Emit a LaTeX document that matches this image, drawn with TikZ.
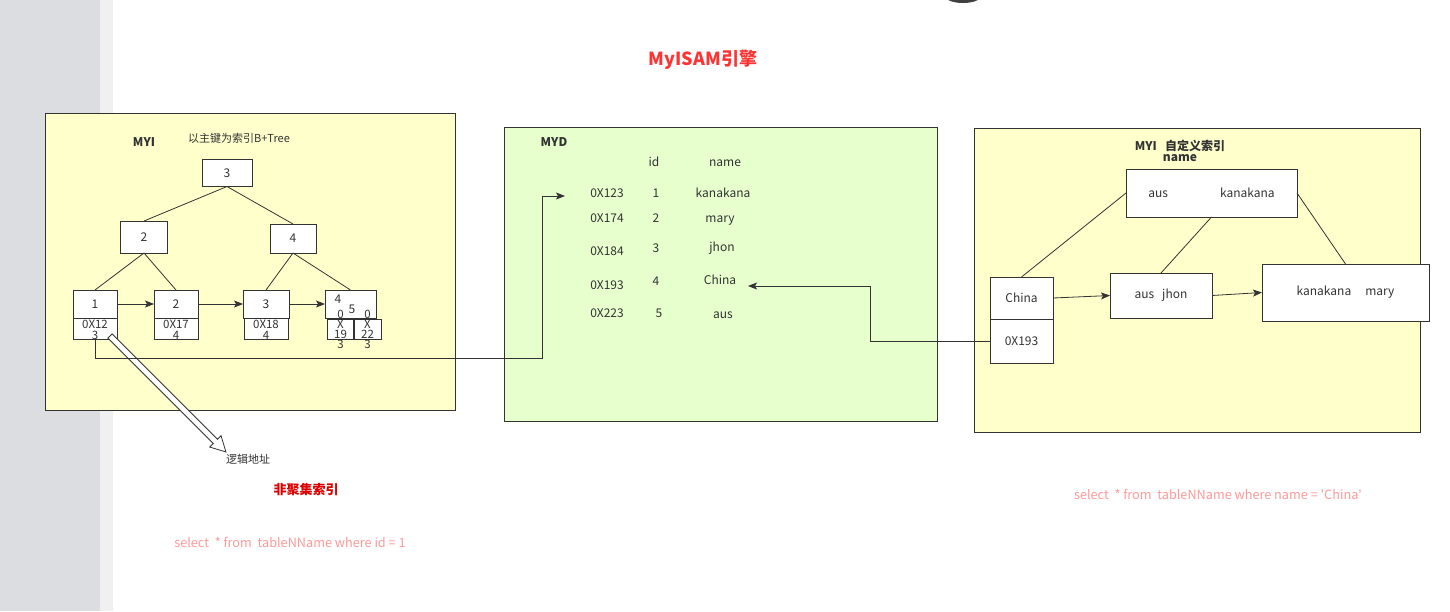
\documentclass[tikz,border=0pt]{standalone}
\usepackage{fontspec}
\setmainfont{Noto Sans CJK SC}
\newfontfamily\rawf{Noto Sans CJK SC}
\usetikzlibrary{arrows.meta,calc}
\definecolor{yel}{HTML}{FFFFCC}
\definecolor{grn}{HTML}{E6FFCC}
\definecolor{edge}{HTML}{333333}
\definecolor{pinkt}{HTML}{FF9999}
\definecolor{titler}{HTML}{FF3333}
\definecolor{darkr}{HTML}{DD0000}
\definecolor{side}{HTML}{DCDDE1}
\definecolor{sidetwo}{HTML}{F0F0F0}
\definecolor{tx}{HTML}{333333}
\newcommand\fz[2]{\fontsize{#1}{#2}\selectfont}
\begin{document}
\begin{tikzpicture}[x=1pt,y=-1pt,
  box/.style={draw=edge, fill=white, line width=0.8pt, inner sep=0pt, outer sep=0pt, font=\fz{12}{14}, text=tx},
  panel/.style={draw=edge, line width=0.8pt, inner sep=0pt, outer sep=0pt, anchor=north west},
  txt/.style={inner sep=0pt, font=\fz{12}{14}, text=tx, text height=8.5pt, text depth=2.5pt},
  small/.style={inner sep=0pt, text=tx, align=center},
  conn/.style={draw=edge, line width=0.8pt},
  arr/.style={conn, -{Stealth[length=9pt,width=7pt,inset=2pt]}},
]
\useasboundingbox (0,0) rectangle (1450,611);
\fill[white] (0,0) rectangle (1450,611);
\fill[side] (0,0) rectangle (100,611);
\fill[sidetwo] (100,0) rectangle (113,611);
\fill[black!75] (963,-4) ellipse [x radius=18, y radius=7];

\node[font=\fz{18}{20}\bfseries, text=titler, inner sep=0pt] (title) at (703,60) {MyISAM引擎};

% ---------- left panel ----------
\node[panel, fill=yel, minimum width=410, minimum height=297] (p1) at (45,113) {};
\node[txt, font=\fz{12}{14}\bfseries] (myia) at (144,143) {MYI};
\node[txt, font=\fz{11}{13}] (tree) at (239,139) {以主键为索引B+Tree};

\node[box, minimum width=50, minimum height=27] (r) at (227,173) {3};
\node[box, minimum width=47, minimum height=32] (n2) at (144,237) {2};
\node[box, minimum width=46, minimum height=29] (n4) at (293,238.5) {4};
\node[box, minimum width=44, minimum height=28] (l1) at (95,304) {1};
\node[box, minimum width=44, minimum height=28] (l2) at (176,304) {2};
\node[box, minimum width=46, minimum height=28] (l3) at (266,304) {3};
\node[box, minimum width=51, minimum height=28] (l4) at (350.5,304) {};
\node[box, minimum width=44, minimum height=21] (b1) at (95,328.5) {};
\node[box, minimum width=44, minimum height=21] (b2) at (176,328.5) {};
\node[box, minimum width=44, minimum height=21] (b3) at (266,328.5) {};
\node[box, minimum width=26, minimum height=20] (s1) at (340,329) {};
\node[box, minimum width=27, minimum height=20] (s2) at (367.5,329) {};

\node[txt] (l4a) at (338,300) {4};
\node[txt] (l4b) at (352,310) {5};
\node[small, font=\fz{11.5}{10.5}] (b1t) at (95,330) {0X12\\3};
\node[small, font=\fz{11.5}{10.5}] (b2t) at (176,330) {0X17\\4};
\node[small, font=\fz{11.5}{10.5}] (b3t) at (266,330) {0X18\\4};
\node[small, font=\fz{11.5}{10}] (s1t) at (340.5,329.5) {0\\X\\19\\3};
\node[small, font=\fz{11.5}{10}] (s2t) at (367.5,329.5) {0\\X\\22\\3};

\draw[conn] (r.south) -- (n2.north);
\draw[conn] (r.south) -- (n4.north);
\draw[conn] (n2.south) -- (l1.north);
\draw[conn] (n2.south) -- (l2.north);
\draw[conn] (n4.south) -- (l3.north);
\draw[conn] (n4.south) -- (l4.north);
\draw[arr] (l1.east) -- (l2.west);
\draw[arr] (l2.east) -- (l3.west);
\draw[arr] (l3.east) -- (l4.west);

% hollow block arrow
\coordinate (hatail) at (110,336);
\node[txt, font=\fz{11}{13}, anchor=west] (logic) at (226,460) {逻辑地址};
\begin{scope}[shift={(hatail)}, rotate=-45]
  \filldraw[fill=white, draw=edge, line width=0.8pt, line join=miter]
    (0,-3) -- (149,-3) -- (149,-8) -- (164,0) -- (149,8) -- (149,3) -- (0,3) -- cycle;
\end{scope}

\node[font=\fz{13}{15}\bfseries, text=darkr, inner sep=0pt] (nonclu) at (306,490) {非聚集索引};
\node[font=\rawf\fz{12.7}{14}, text=pinkt, inner sep=0pt] (sqla) at (290,542) {select\ \ * from\ \ tableNName where id = 1};

% ---------- middle panel ----------
\node[panel, fill=grn, minimum width=433, minimum height=294] (p2) at (504,127) {};
\node[txt, font=\fz{12}{14}\bfseries] (myd) at (554,143) {MYD};
\node[txt] (hid) at (654,163) {id};
\node[txt] (hname) at (725,163) {name};

\node[txt] (a1) at (607,194) {0X123};
\node[txt] (i1) at (656,194) {1};
\node[txt] (m1) at (723,194) {kanakana};
\node[txt] (a2) at (607,219) {0X174};
\node[txt] (i2) at (656,219) {2};
\node[txt] (m2) at (720,219) {mary};
\node[txt] (a3) at (607,252) {0X184};
\node[txt] (i3) at (656,249) {3};
\node[txt] (m3) at (722,248) {jhon};
\node[txt] (a4) at (607,286) {0X193};
\node[txt] (i4) at (656,282) {4};
\node[txt] (m4) at (720,281) {China};
\node[txt] (a5) at (607,314) {0X223};
\node[txt] (i5) at (659,314) {5};
\node[txt] (m5) at (723,315) {aus};

\coordinate (rowin) at (565,196);
\draw[arr] (b1.south) -- (95,358) -- (542,358) -- (542,196) -- (rowin);

% ---------- right panel ----------
\node[panel, fill=yel, minimum width=446, minimum height=304] (p3) at (974,128) {};
\node[font=\fz{12}{11}\bfseries, text=tx, align=center, inner sep=0pt] (myib) at (1180,151) {MYI\ \ \ 自定义索引\\name};

\node[box, minimum width=171, minimum height=48] (tb) at (1211.5,193) {aus\hspace{52pt}kanakana};
\node[box, minimum width=63, minimum height=42] (cb) at (1021.5,298) {China};
\node[box, minimum width=63, minimum height=44] (ab) at (1021.5,341) {0X193};
\node[box, minimum width=102, minimum height=45] (ai) at (1161,295.5) {aus\hspace{8pt}jhon};
\node[box, minimum width=167, minimum height=57] (km) at (1345.5,292.5) {kanakana\hspace{14pt}mary};

\draw[conn] (tb.west) -- (cb.north);
\draw[conn] (tb.south) -- (ai.north);
\draw[conn] (tb.east) -- (km.north);
\draw[arr] (cb.east) -- (ai.west);
\draw[arr] (ai.east) -- (km.west);

\coordinate (chinain) at (748,286);
\draw[arr] (ab.west) -- (870,341) -- (870,286) -- (chinain);

\node[font=\rawf\fz{12.7}{14}, text=pinkt, inner sep=0pt] (sqlb) at (1218,494) {select\ \ * from\ \ tableNName where name = 'China'};
\end{tikzpicture}
\end{document}
